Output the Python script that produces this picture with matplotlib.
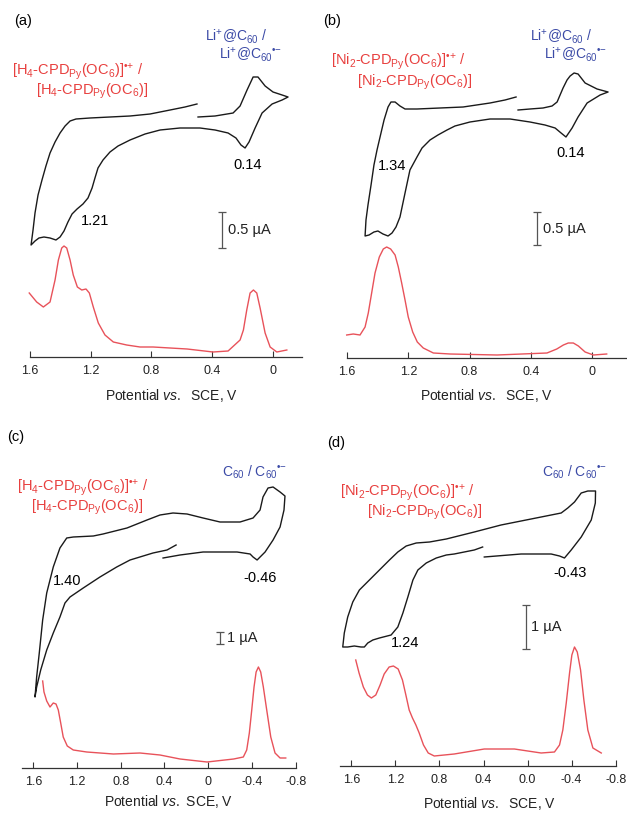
import matplotlib.pyplot as plt
import numpy as np

plt.rcParams['font.family'] = ['Liberation Sans', 'DejaVu Sans']
plt.rcParams['mathtext.fontset'] = 'custom'
plt.rcParams['mathtext.rm'] = 'Liberation Sans'
plt.rcParams['mathtext.it'] = 'Liberation Sans:italic'
plt.rcParams['mathtext.bf'] = 'Liberation Sans:bold'

# potentials (V vs SCE) and currents (arbitrary units)
# (a) H4-CPD + Li+@C60
a_cv_E = [0.493, 0.381, 0.262, 0.216, 0.170, 0.130, 0.098, 0.051, -0.001, -0.061, -0.100,
          -0.061, 0.005, 0.071, 0.117, 0.157, 0.183, 0.210, 0.243, 0.295, 0.381, 0.480,
          0.612, 0.743, 0.842, 0.941, 1.020, 1.073, 1.119, 1.152, 1.172, 1.191, 1.218,
          1.251, 1.290, 1.323, 1.350, 1.376, 1.402, 1.429, 1.468, 1.508, 1.541, 1.567,
          1.593, 1.580, 1.567, 1.547, 1.521, 1.495, 1.468, 1.435, 1.402, 1.369, 1.336,
          1.297, 1.205, 1.073, 0.941, 0.809, 0.677, 0.579, 0.500]
a_cv_i = [240, 241, 244, 251, 267, 280, 280, 271, 265, 262, 260,
          257, 253, 244, 229, 215, 209, 212, 219, 224, 227, 229,
          229, 227, 223, 217, 211, 205, 197, 189, 179, 169, 159,
          153, 148, 143, 135, 126, 120, 117, 119, 120, 119, 116,
          112, 127, 144, 162, 177, 191, 204, 215, 224, 231, 236,
          238, 239, 240, 241, 243, 247, 250, 253]
a_dpv_E = [1.605, 1.556, 1.512, 1.468, 1.435, 1.413, 1.391, 1.376, 1.358, 1.336, 1.315,
           1.288, 1.259, 1.231, 1.209, 1.183, 1.150, 1.106, 1.051, 0.963, 0.875, 0.789,
           0.677, 0.565, 0.394, 0.295, 0.216, 0.194, 0.172, 0.150, 0.128, 0.106, 0.084,
           0.051, 0.018, -0.026, -0.092]
a_dpv_i = [64, 55, 50, 55, 77, 97, 109, 111, 109, 97, 82,
           70, 67, 68, 64, 50, 34, 22, 15, 12, 10, 10,
           9, 8, 5, 6, 17, 27, 47, 64, 67, 64, 49,
           24, 10, 5, 7]

# (b) Ni2-CPD + Li+@C60
b_cv_E = [0.483, 0.405, 0.320, 0.261, 0.228, 0.189, 0.163, 0.143, 0.117, 0.091, 0.045,
          -0.033, -0.105, -0.053, 0.032, 0.091, 0.130, 0.170, 0.202, 0.241, 0.307, 0.405,
          0.535, 0.666, 0.797, 0.895, 0.947, 1.006, 1.058, 1.110, 1.143, 1.189, 1.221,
          1.254, 1.280, 1.306, 1.332, 1.365, 1.398, 1.424, 1.456, 1.482, 1.476, 1.463,
          1.443, 1.424, 1.404, 1.378, 1.358, 1.332, 1.313, 1.286, 1.254, 1.221, 1.143,
          0.993, 0.842, 0.666, 0.568, 0.496]
b_cv_i = [248, 249, 250, 252, 256, 270, 278, 282, 285, 284, 275,
          269, 266, 263, 255, 241, 230, 221, 225, 230, 233, 236,
          239, 239, 236, 232, 228, 223, 218, 210, 201, 188, 165,
          141, 131, 125, 122, 124, 127, 126, 123, 122, 138, 153,
          173, 193, 208, 225, 238, 251, 256, 256, 252, 249, 249,
          250, 251, 255, 258, 261]
b_dpv_E = [1.602, 1.559, 1.515, 1.482, 1.461, 1.439, 1.417, 1.389, 1.363, 1.341, 1.315,
           1.286, 1.265, 1.243, 1.221, 1.200, 1.171, 1.141, 1.102, 1.036, 0.927, 0.620,
           0.294, 0.230, 0.187, 0.155, 0.122, 0.089, 0.045, -0.009, -0.096]
b_dpv_i = [23, 24, 23, 31, 45, 65, 85, 101, 109, 111, 109,
           103, 91, 75, 58, 41, 26, 16, 10, 5, 4, 3,
           5, 9, 13, 15, 15, 12, 6, 3, 4]

# (c) H4-CPD + C60
c_cv_E = [0.294, 0.377, 0.505, 0.715, 0.837, 0.990, 1.143, 1.264, 1.310, 1.356, 1.417,
          1.477, 1.532, 1.569, 1.584, 1.569, 1.545, 1.514, 1.477, 1.417, 1.356, 1.294,
          1.234, 1.051, 0.962, 0.743, 0.560, 0.441, 0.322, 0.194, 0.047, -0.108, -0.291,
          -0.410, -0.474, -0.501, -0.547, -0.593, -0.657, -0.702, -0.693, -0.657, -0.593,
          -0.520, -0.447, -0.410, -0.383, -0.264, 0.047, 0.258, 0.413]
c_cv_i = [223, 218, 215, 208, 201, 191, 180, 171, 165, 151, 135,
          118, 98, 81, 71, 91, 115, 148, 175, 201, 220, 230,
          231, 232, 234, 240, 248, 253, 255, 254, 250, 246, 246,
          250, 258, 271, 280, 281, 276, 272, 258, 241, 228,
          216, 208, 211, 214, 216, 216, 213, 210]
c_dpv_E = [1.514, 1.502, 1.477, 1.447, 1.417, 1.392, 1.371, 1.349, 1.326, 1.289, 1.234,
           1.111, 0.867, 0.624, 0.441, 0.258, 0.011, -0.233, -0.321, -0.352, -0.376,
           -0.398, -0.419, -0.438, -0.459, -0.480, -0.504, -0.535, -0.572, -0.611, -0.657,
           -0.709]
c_dpv_i = [87, 76, 67, 61, 65, 64, 58, 45, 31, 22, 18,
           16, 14, 15, 13, 9, 6, 9, 11, 18, 35,
           58, 81, 96, 101, 96, 81, 58, 31, 15, 10,
           10]

# (d) Ni2-CPD + C60
d_cv_E = [0.408, 0.484, 0.666, 0.738, 0.829, 0.920, 0.996, 1.041, 1.087, 1.132, 1.178,
          1.239, 1.345, 1.405, 1.451, 1.482, 1.512, 1.573, 1.633, 1.678, 1.664, 1.633,
          1.587, 1.527, 1.436, 1.345, 1.254, 1.178, 1.102, 1.011, 0.890, 0.738, 0.484,
          0.241, 0.059, -0.123, -0.305, -0.365, -0.426, -0.487, -0.547, -0.617, -0.615,
          -0.578, -0.487, -0.396, -0.335, -0.290, -0.214, 0.059, 0.393]
d_cv_i = [219, 216, 212, 211, 208, 203, 196, 186, 169, 153, 139,
          131, 128, 126, 123, 119, 119, 120, 119, 119, 133, 149,
          164, 176, 186, 196, 206, 214, 220, 223, 224, 227, 234,
          241, 245, 249, 253, 258, 264, 273, 275, 275, 263,
          246, 229, 216, 208, 210, 212, 212, 209]
d_dpv_E = [1.560, 1.530, 1.491, 1.454, 1.418, 1.378, 1.339, 1.302, 1.257, 1.218, 1.175,
           1.136, 1.105, 1.075, 1.045, 1.014, 0.984, 0.945, 0.902, 0.847, 0.666, 0.393,
           0.120, -0.123, -0.244, -0.290, -0.320, -0.351, -0.381, -0.402, -0.426, -0.451,
           -0.481, -0.511, -0.547, -0.593, -0.669]
d_dpv_i = [106, 93, 79, 71, 68, 71, 81, 92, 99, 100, 97,
           86, 71, 56, 48, 41, 33, 21, 13, 10, 12, 17,
           17, 13, 14, 21, 36, 63, 93, 111, 119, 114,
           96, 66, 36, 18, 13]

ticks_ab = [1.6, 1.2, 0.8, 0.4, 0.0]
labels_ab = ['1.6', '1.2', '0.8', '0.4', '0']
ticks_cd = [1.6, 1.2, 0.8, 0.4, 0.0, -0.4, -0.8]
labels_c = ['1.6', '1.2', '0.8', '0.4', '0', '-0.4', '-0.8']
labels_d = ['1.6', '1.2', '0.8', '0.4', '0.0', '-0.4', '-0.8']

RED = '#e8403f'
RED_LINE = '#e8525a'
BLUE = '#3b4aa6'
GREY = '#555555'

W, H = 627, 814
fig = plt.figure(figsize=(W / 100, H / 100), dpi=100)


def make_ax(left, right, top, bottom, xlim, ylim, ticks, labels):
    ax = fig.add_axes([left / W, 1 - bottom / H, (right - left) / W, (bottom - top) / H])
    ax.set_xlim(*xlim)
    ax.set_ylim(*ylim)
    for s in ['left', 'right', 'top']:
        ax.spines[s].set_visible(False)
    ax.spines['bottom'].set_color('#333333')
    ax.spines['bottom'].set_linewidth(0.9)
    ax.set_yticks([])
    ax.set_xticks(ticks)
    ax.set_xticklabels(labels)
    ax.tick_params(axis='x', direction='in', length=4, width=0.8, color='#333333',
                   labelsize=9, pad=6, labelcolor='#222222')
    ax.patch.set_alpha(0)
    return ax


def draw(ax, cvE, cvI, dpE, dpI):
    ax.plot(cvE, cvI, color='#1a1a1a', lw=1.0, clip_on=False, solid_joinstyle='round')
    ax.plot(dpE, dpI, color=RED_LINE, lw=1.0, clip_on=False, solid_joinstyle='round')


def scalebar(ax, x, y0, length, tx, text):
    ax.errorbar([x], [y0 + length / 2], yerr=[length / 2], color=GREY, lw=0.9,
                capsize=3, capthick=0.9)
    ax.text(tx, y0 + length / 2, text, ha='left', va='center', fontsize=10.5,
            color='#222222')


def labels(ax, red1, red2, blue1, blue2):
    ax.text(red1[0], red1[1], red1[2], color=RED, fontsize=10.5, ha='right', va='center')
    ax.text(red2[0], red2[1], red2[2], color=RED, fontsize=10.5, ha='right', va='center')
    ax.text(blue1[0], blue1[1], blue1[2], color=BLUE, fontsize=10, ha='right', va='center')
    if blue2 is not None:
        ax.text(blue2[0], blue2[1], blue2[2], color=BLUE, fontsize=10, ha='right', va='center')


h4_1 = r'[H$_4$-CPD$_{\rm Py}$(OC$_6$)]$^{•{+}}$ /'
h4_2 = r'[H$_4$-CPD$_{\rm Py}$(OC$_6$)]'
ni_1 = r'[Ni$_2$-CPD$_{\rm Py}$(OC$_6$)]$^{•{+}}$ /'
ni_2 = r'[Ni$_2$-CPD$_{\rm Py}$(OC$_6$)]'
li_1 = r'Li$^{{+}}$@C$_{60}$ /'
li_2 = r'Li$^{{+}}$@C$_{60}$$^{•{-}}$'
c60 = r'C$_{60}$ / C$_{60}$$^{•{-}}$'

# (a)
ax = make_ax(30, 302, 0, 357, (1.6, -0.192), (0, 357), ticks_ab, labels_ab)
draw(ax, a_cv_E, a_cv_i, a_dpv_E, a_dpv_i)
ax.text(0.163, 192, '0.14', ha='center', va='center', fontsize=10.5)
ax.text(1.172, 136, '1.21', ha='center', va='center', fontsize=10.5)
scalebar(ax, 0.335, 109, 36, 0.295, '0.5 µA')
labels(ax, (0.855, 285, h4_1), (0.822, 266, h4_2), (0.038, 320, li_1), (-0.061, 302, li_2))

# (b)
ax = make_ax(347, 626, 0, 358, (1.6, -0.222), (0, 358), ticks_ab, labels_ab)
draw(ax, b_cv_E, b_cv_i, b_dpv_E, b_dpv_i)
ax.text(0.137, 205, '0.14', ha='center', va='center', fontsize=10.5)
ax.text(1.306, 192, '1.34', ha='center', va='center', fontsize=10.5)
scalebar(ax, 0.359, 113, 33, 0.320, '0.5 µA')
labels(ax, (0.823, 296, ni_1), (0.784, 276, ni_2), (0.0, 321, li_1), (-0.098, 303, li_2))

# (c)
ax = make_ax(22, 295.7, 420, 768, (1.703, -0.8), (0, 348), ticks_cd, labels_c)
draw(ax, c_cv_E, c_cv_i, c_dpv_E, c_dpv_i)
ax.text(1.292, 187, '1.40', ha='center', va='center', fontsize=10.5)
ax.text(-0.474, 190, '-0.46', ha='center', va='center', fontsize=10.5)
scalebar(ax, -0.108, 124, 12, -0.172, '1 µA')
labels(ax, (0.550, 280, h4_1), (0.596, 261, h4_2), (-0.721, 296, c60), None)

# (d)
ax = make_ax(340, 615.7, 420, 766, (1.703, -0.8), (0, 346), ticks_cd, labels_d)
draw(ax, d_cv_E, d_cv_i, d_dpv_E, d_dpv_i)
ax.text(1.111, 123, '1.24', ha='center', va='center', fontsize=10.5)
ax.text(-0.390, 193, '-0.43', ha='center', va='center', fontsize=10.5)
scalebar(ax, 0.010, 117, 44, -0.035, '1 µA')
labels(ax, (0.484, 273, ni_1), (0.411, 254, ni_2), (-0.718, 294, c60), None)

# panel letters and x labels
for x, y, t in [(23, 21, '(a)'), (332, 21, '(b)'), (16, 437, '(c)'), (336, 443, '(d)')]:
    fig.text(x / W, 1 - y / H, t, ha='center', va='center', fontsize=10.5)

for x, y, t in [(172, 395, r'Potential $\mathit{vs.}$  SCE, V'),
                (487, 395, r'Potential $\mathit{vs.}$  SCE, V'),
                (169, 802, r'Potential $\mathit{vs.}$ SCE, V'),
                (490, 804, r'Potential $\mathit{vs.}$  SCE, V')]:
    fig.text(x / W, 1 - y / H, t, ha='center', va='center', fontsize=10, color='#222222')

fig.savefig('out.png', dpi=100)
